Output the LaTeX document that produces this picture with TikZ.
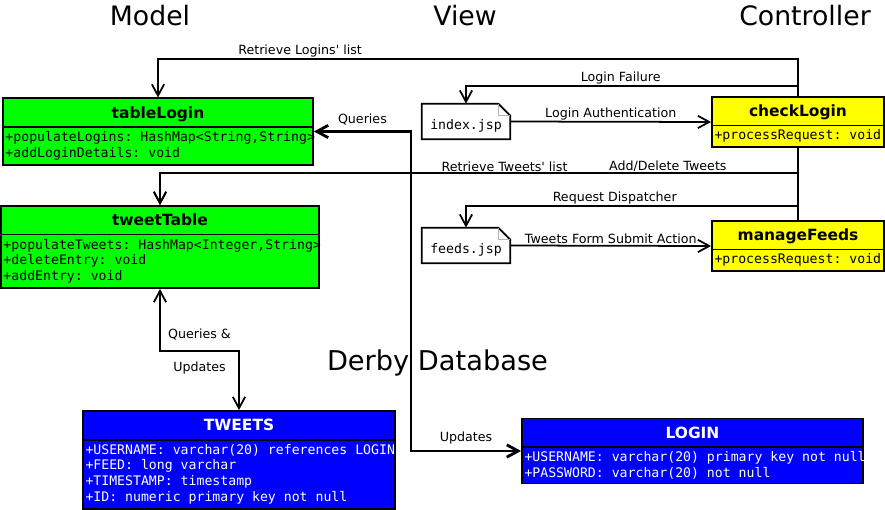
\documentclass[tikz,border=0pt]{standalone}
\usepackage{fontspec}
\setmainfont{DejaVu Sans}
\setmonofont{DejaVu Sans Mono}
\usepackage{tikz}
\usetikzlibrary{shapes.multipart,arrows.meta}
\definecolor{greenModel}{RGB}{0,255,0}
\definecolor{yellowCtrl}{RGB}{255,255,0}
\definecolor{blueDerby}{RGB}{0,0,255}
\newcommand{\classname}[1]{\rmfamily\bfseries\fontsize{8.8}{10}\selectfont\rule[-2.5pt]{0pt}{11.3pt}\hspace*{\fill}#1\hspace*{\fill}\hbox{}}
\newcommand{\member}[1]{\mbox{\spaceskip=0.602em\xspaceskip=0.602em+#1}}
\newcommand{\monofont}{\fontsize{7.5}{9.07}\selectfont\ttfamily}

\begin{document}
\begin{tikzpicture}[font=\fontsize{7.2}{8.6}\selectfont,
    >={Straight Barb[length=6.5pt,width=7pt]},
    classbox/.style={rectangle split, rectangle split parts=2, draw=black, line width=1pt,
        inner xsep=0.05cm, inner ysep=2pt, align=left, font=\monofont},
    jsp/.style={minimum width=1.76cm, minimum height=0.7cm, inner sep=0pt,
        text height=8.8pt, text depth=0pt, font=\monofont},
    link/.style={->, line width=1pt},
    lbl/.style={above=0.5pt, inner sep=0pt},
    title/.style={font=\fontsize{15.2}{18}\selectfont}]

\useasboundingbox (0,0) rectangle (17.7,10.18);

\node[title] (model) at (3.0,9.86) {Model};
\node[title] (view) at (9.30,9.86) {View};
\node[title] (controller) at (16.10,9.86) {Controller};
\node[title, font=\fontsize{15.5}{18}\selectfont] (derby) at (8.75,2.92) {Derby Database};

\node[classbox, fill=greenModel, text width=6.1cm] (tableLogin) at (3.16,7.55)
    {\classname{tableLogin}
     \nodepart{two}\member{populateLogins: HashMap<String,String>}\\
     \member{addLoginDetails: void}};
\node[classbox, fill=greenModel, text width=6.26cm] (tweetTable) at (3.20,5.24)
    {\classname{tweetTable}
     \nodepart{two}\member{populateTweets: HashMap<Integer,String>}\\
     \member{deleteEntry: void}\\
     \member{addEntry: void}};

\node[classbox, fill=yellowCtrl, text width=3.34cm] (checkLogin) at (15.96,7.74)
    {\classname{checkLogin}
     \nodepart{two}\member{processRequest: void}};
\node[classbox, fill=yellowCtrl, text width=3.34cm] (manageFeeds) at (15.96,5.26)
    {\classname{manageFeeds}
     \nodepart{two}\member{processRequest: void}};

\node[classbox, fill=blueDerby, text=white, text width=6.14cm] (TWEETS) at (4.78,0.98)
    {\classname{TWEETS}
     \nodepart{two}\member{USERNAME: varchar(20) references LOGIN}\\
     \member{FEED: long varchar}\\
     \member{TIMESTAMP: timestamp}\\
     \member{ID: numeric primary key not null}};
\node[classbox, fill=blueDerby, text=white, text width=6.72cm] (LOGIN) at (13.85,1.16)
    {\classname{LOGIN}
     \nodepart{two}\member{USERNAME: varchar(20) primary key not null}\\
     \member{PASSWORD: varchar(20) not null}};

\node[jsp] (index) at (9.32,7.75) {index.jsp};
\node[jsp] (feeds) at (9.32,5.27) {feeds.jsp};
\foreach \f in {index,feeds}{
  \draw[line width=1pt] (\f.north west) -- ([xshift=-0.24cm]\f.north east)
      -- ([yshift=-0.24cm]\f.north east) -- (\f.south east) -- (\f.south west) -- cycle;
  \draw[gray!60, line width=0.4pt] ([xshift=-0.24cm]\f.north east) |- ([yshift=-0.24cm]\f.north east);
}

\coordinate (loginBus) at (15.96,9.00);
\coordinate (failBus) at (15.96,8.46);
\coordinate (tweetsBus) at (15.96,6.72);
\coordinate (dispatchBus) at (15.96,6.06);
\coordinate (dbline) at (8.22,0);

\draw[link] (checkLogin.north) -- (loginBus) -| node[lbl, pos=0.389] {Retrieve Logins\textquotesingle{} list} (tableLogin.north);
\draw[link] (checkLogin.north) -- (failBus) -| node[lbl, pos=0.267] {Login Failure} (index.north);
\draw[link] (index.east) -- node[lbl] {Login Authentication} (checkLogin.west);
\draw[link] (checkLogin.south) -- (tweetsBus) -| node[lbl, pos=0.23] {Retrieve Tweets\textquotesingle{} list} (tweetTable.north);
\draw[link] (manageFeeds.north) -- (tweetsBus) -| node[lbl, pos=0.102] {Add/Delete Tweets} (tweetTable.north);
\draw[link] (checkLogin.south) -- (dispatchBus) -| node[lbl, pos=0.276] {Request Dispatcher} (feeds.north);
\draw[link] (feeds.east) -- node[lbl] {Tweets Form Submit Action} (manageFeeds.west);

\draw[link, <->] (tweetTable.south) -- ++(0,-1.24) -| node[pos=0.25, above=5.5pt, inner sep=0pt] {Queries \&}
    node[pos=0.25, below=5.5pt, inner sep=0pt] {Updates} (TWEETS.north);
\draw[link, <->, line width=1.6pt] (tableLogin.east) -- node[above=3pt, inner sep=0pt] {Queries} (tableLogin.east -| dbline)
    |- node[pos=0.75, above=3pt, inner sep=0pt] {Updates} (LOGIN.west);

\end{tikzpicture}
\end{document}
